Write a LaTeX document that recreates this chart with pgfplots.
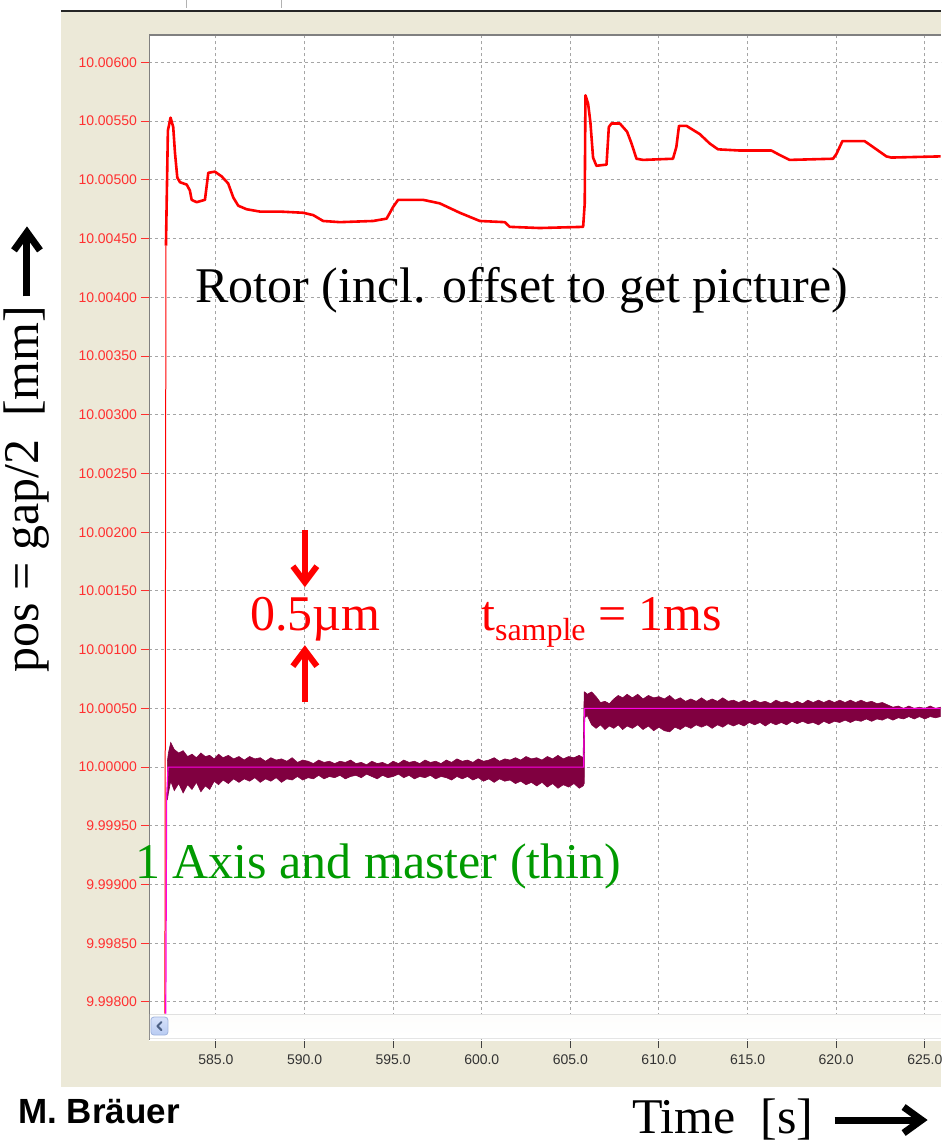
\documentclass[border=0pt]{standalone}
\usepackage{fontspec}
\setmainfont{Liberation Serif}
\newfontfamily\sansfont{Liberation Sans}
\usepackage{pgfplots}
\usepackage{pgfplotstable}
\pgfplotsset{compat=1.18}
\usetikzlibrary{arrows.meta}

\definecolor{panel}{HTML}{ECE9D8}
\definecolor{gridgray}{HTML}{A5A5A5}
\definecolor{rotorred}{HTML}{FF0000}
\definecolor{bandmaroon}{HTML}{800040}
\definecolor{master}{HTML}{FF00E6}
\definecolor{labelred}{HTML}{FF3030}
\definecolor{textgreen}{HTML}{009A00}
\definecolor{btnedge}{HTML}{A0B4DE}
\definecolor{btntop}{HTML}{D7E2FA}
\definecolor{btnbot}{HTML}{B8CBF2}
\definecolor{chevron}{HTML}{4D6185}

% rotor position, y in micrometre above 10 mm
\pgfplotstableread{
x y
582.18 4.44
582.29 5.42
582.44 5.53
582.59 5.45
582.69 5.23
582.82 5.02
582.97 4.98
583.35 4.96
583.53 4.91
583.63 4.83
583.91 4.81
584.38 4.83
584.57 5.06
584.94 5.07
585.32 5.03
585.69 4.97
585.98 4.85
586.26 4.78
586.73 4.75
587.48 4.73
588.61 4.73
589.92 4.72
590.49 4.70
591.05 4.65
591.99 4.64
593.87 4.65
594.63 4.67
595.00 4.77
595.28 4.83
596.69 4.83
597.63 4.80
598.76 4.72
599.89 4.65
601.30 4.64
601.58 4.60
603.27 4.59
605.72 4.60
605.81 4.80
605.85 5.72
606.00 5.65
606.13 5.49
606.28 5.19
606.47 5.12
607.04 5.13
607.17 5.45
607.32 5.48
607.79 5.48
608.20 5.41
608.45 5.31
608.73 5.18
609.10 5.17
610.79 5.18
610.98 5.28
611.13 5.46
611.55 5.46
612.30 5.39
612.86 5.31
613.33 5.26
614.55 5.25
616.34 5.25
616.71 5.22
617.37 5.17
619.82 5.18
620.01 5.22
620.35 5.33
621.60 5.33
621.89 5.30
622.83 5.20
623.11 5.19
625.89 5.20
}\rotor

% axis / master: outline of the noisy band (upper edge, then lower edge backwards)
\pgfplotstableread{
x y
582.26 0.05
582.32 0.12
582.45 0.21
582.65 0.15
582.90 0.12
583.15 0.14
583.40 0.09
583.65 0.11
583.90 0.08
584.15 0.12
584.40 0.09
584.65 0.10
584.90 0.07
585.15 0.11
585.40 0.08
585.70 0.10
586.00 0.07
586.30 0.09
586.60 0.06
586.90 0.09
587.20 0.07
587.50 0.08
587.80 0.05
588.10 0.08
588.40 0.06
588.70 0.07
589.00 0.05
589.30 0.08
589.60 0.04
589.90 0.06
590.20 0.05
590.50 0.03
590.80 0.06
591.10 0.04
591.40 0.05
591.70 0.03
592.00 0.05
592.30 0.04
592.60 0.06
592.90 0.03
593.20 0.04
593.50 0.02
593.80 0.05
594.10 0.03
594.40 0.04
594.70 0.02
595.00 0.05
595.30 0.03
595.60 0.06
595.90 0.04
596.20 0.05
596.50 0.03
596.80 0.06
597.10 0.04
597.40 0.05
597.70 0.03
598.00 0.06
598.30 0.04
598.60 0.07
598.90 0.05
599.20 0.06
599.50 0.04
599.80 0.07
600.10 0.05
600.40 0.06
600.70 0.08
601.00 0.05
601.30 0.07
601.60 0.06
601.90 0.08
602.20 0.06
602.50 0.09
602.80 0.07
603.10 0.08
603.40 0.06
603.70 0.09
604.00 0.07
604.30 0.10
604.60 0.07
604.90 0.09
605.20 0.08
605.50 0.10
605.72 0.08
605.78 0.64
605.81 0.64
605.95 0.62
606.20 0.64
606.45 0.60
606.70 0.55
606.95 0.56
607.20 0.54
607.45 0.58
607.70 0.61
607.95 0.59
608.20 0.62
608.50 0.59
608.80 0.62
609.10 0.58
609.40 0.61
609.70 0.59
610.00 0.60
610.30 0.58
610.60 0.61
610.90 0.57
611.20 0.59
611.50 0.56
611.80 0.58
612.10 0.56
612.40 0.59
612.70 0.56
613.00 0.58
613.30 0.56
613.60 0.59
613.90 0.56
614.20 0.57
614.50 0.55
614.80 0.57
615.10 0.55
615.40 0.57
615.70 0.55
616.00 0.56
616.30 0.54
616.60 0.57
616.90 0.55
617.20 0.56
617.50 0.54
617.80 0.56
618.10 0.54
618.40 0.57
618.70 0.55
619.00 0.57
619.30 0.55
619.60 0.57
619.90 0.55
620.20 0.57
620.50 0.55
620.80 0.57
621.10 0.55
621.40 0.57
621.70 0.55
622.00 0.56
622.30 0.54
622.60 0.55
622.90 0.53
623.20 0.51
623.50 0.52
623.80 0.50
624.10 0.52
624.40 0.50
624.70 0.51
625.00 0.50
625.30 0.52
625.60 0.50
625.89 0.51
625.89 0.43
625.60 0.42
625.30 0.43
625.00 0.41
624.70 0.43
624.40 0.41
624.10 0.43
623.80 0.41
623.50 0.42
623.20 0.40
622.90 0.42
622.60 0.40
622.30 0.41
622.00 0.39
621.70 0.41
621.40 0.39
621.10 0.40
620.80 0.38
620.50 0.40
620.20 0.38
619.90 0.39
619.60 0.37
619.30 0.39
619.00 0.36
618.70 0.38
618.40 0.37
618.10 0.39
617.80 0.37
617.50 0.39
617.20 0.36
616.90 0.38
616.60 0.36
616.30 0.38
616.00 0.35
615.70 0.38
615.40 0.36
615.10 0.38
614.80 0.35
614.50 0.37
614.20 0.35
613.90 0.37
613.60 0.34
613.30 0.36
613.00 0.33
612.70 0.36
612.40 0.34
612.10 0.36
611.80 0.33
611.50 0.35
611.20 0.32
610.90 0.34
610.60 0.30
610.30 0.31
610.00 0.34
609.70 0.31
609.40 0.35
609.10 0.32
608.80 0.36
608.50 0.33
608.20 0.35
607.95 0.32
607.70 0.36
607.45 0.33
607.20 0.35
606.95 0.32
606.70 0.36
606.45 0.33
606.20 0.36
605.95 0.44
605.81 0.42
605.78 -0.14
605.72 -0.16
605.50 -0.18
605.20 -0.14
604.90 -0.17
604.60 -0.15
604.30 -0.18
604.00 -0.14
603.70 -0.17
603.40 -0.13
603.10 -0.16
602.80 -0.13
602.50 -0.15
602.20 -0.12
601.90 -0.14
601.60 -0.11
601.30 -0.12
601.00 -0.10
600.70 -0.13
600.40 -0.10
600.10 -0.12
599.80 -0.09
599.50 -0.11
599.20 -0.08
598.90 -0.10
598.60 -0.08
598.30 -0.11
598.00 -0.09
597.70 -0.08
597.40 -0.10
597.10 -0.07
596.80 -0.09
596.50 -0.08
596.20 -0.10
595.90 -0.07
595.60 -0.09
595.30 -0.06
595.00 -0.08
594.70 -0.09
594.40 -0.07
594.10 -0.10
593.80 -0.08
593.50 -0.06
593.20 -0.09
592.90 -0.07
592.60 -0.08
592.30 -0.10
592.00 -0.07
591.70 -0.09
591.40 -0.08
591.10 -0.10
590.80 -0.07
590.50 -0.10
590.20 -0.09
589.90 -0.11
589.60 -0.08
589.30 -0.11
589.00 -0.10
588.70 -0.13
588.40 -0.09
588.10 -0.12
587.80 -0.10
587.50 -0.13
587.20 -0.09
586.90 -0.12
586.60 -0.10
586.30 -0.13
586.00 -0.10
585.70 -0.14
585.40 -0.11
585.15 -0.15
584.90 -0.12
584.65 -0.19
584.40 -0.16
584.15 -0.21
583.90 -0.13
583.65 -0.19
583.40 -0.15
583.15 -0.22
582.90 -0.14
582.65 -0.20
582.45 -0.12
582.32 -0.22
582.26 -0.28
582.26 0.05
}\band

\begin{document}
\begin{tikzpicture}[x=0.5pt,y=0.5pt]
% page and screenshot frame (1 unit = 1 pixel of the reference)
\fill[white] (0,0) rectangle (948,1146);
\fill[panel] (61,59) rectangle (941,1134);
\draw[black!85, line width=0.8pt] (61,1135.5) -- (941,1135.5);
\draw[black!30, line width=0.5pt] (187,1146) -- (187,1138);
\draw[black!30, line width=0.5pt] (282,1146) -- (282,1138);
\fill[white] (149,106) rectangle (941,1112);

\begin{axis}[
    at={(74.5pt,53pt)}, anchor=south west,
    width=396pt, height=503pt, scale only axis,
    xmin=581.22, xmax=625.89,
    ymin=-2.324, ymax=6.238,
    axis line style={draw=white, line width=0.3pt},
    xtick pos=bottom, ytick pos=left,
    tick align=outside,
    major tick length=4pt,
    xtick={585,590,595,600,605,610,615,620,625},
    xticklabels={585.0,590.0,595.0,600.0,605.0,610.0,615.0,620.0,625.0},
    ytick={-2,-1.5,-1,-0.5,0,0.5,1,1.5,2,2.5,3,3.5,4,4.5,5,5.5,6},
    yticklabels={9.99800,9.99850,9.99900,9.99950,10.00000,10.00050,10.00100,
        10.00150,10.00200,10.00250,10.00300,10.00350,10.00400,10.00450,
        10.00500,10.00550,10.00600},
    grid=major,
    major grid style={gridgray, line width=0.5pt, dash pattern=on 1.5pt off 1.5pt},
    xtick style={draw=black!75, line width=0.5pt},
    ytick style={draw=labelred, line width=0.5pt},
    x tick label style={font=\sansfont\fontsize{7}{8}\selectfont, text=black!80},
    y tick label style={font=\sansfont\fontsize{7}{8}\selectfont, text=labelred, xshift=1.5pt},
]
\addplot[fill=bandmaroon, draw=bandmaroon, line width=0.3pt] table[x=x,y=y]{\band};
\addplot[rotorred, line width=0.5pt] coordinates {(582.12,-2.10) (582.18,4.44)};
\addplot[rotorred, line width=1.3pt, line join=round] table[x=x,y=y]{\rotor};
\addplot[master, line width=0.6pt] coordinates {
    (582.17,-2.10) (582.22,-0.25) (582.30,0.00) (605.75,0.00)
    (605.80,0.50) (625.89,0.50)};
\end{axis}

% window borders and scroll bar
\draw[black!50, line width=0.8pt] (149.5,106) -- (149.5,1111.5) -- (941,1111.5);
\shade[top color=white!90!panel, bottom color=white] (150,108) rectangle (941,132);
\draw[black!12, line width=0.5pt] (150,132) -- (941,132);
\draw[black!10, line width=0.5pt] (150,108) -- (941,108);
\draw[rounded corners=1.5pt, draw=btnedge, top color=btntop, bottom color=btnbot]
    (151,111) rectangle (168,129);
\draw[chevron, line width=1pt, line cap=round, line join=round]
    (161.5,124) -- (157.5,120) -- (161.5,116);

% annotations
\node[anchor=base west, inner sep=0pt] at (195,844)
    {\fontsize{25}{30}\selectfont Rotor (incl. offset to get picture)};
\node[anchor=base west, inner sep=0pt, text=red] at (250,516)
    {\fontsize{25}{30}\selectfont 0.5µm};
\node[anchor=base west, inner sep=0pt, text=red] at (481,516)
    {\fontsize{25}{30}\selectfont t\raisebox{-5pt}{\fontsize{16}{18}\selectfont sample} = 1ms};
\node[anchor=base west, inner sep=0pt, text=textgreen] at (135,268)
    {\fontsize{25}{30}\selectfont 1 Axis and master (thin)};
\draw[red, line width=3pt, -{Straight Barb[length=8pt, width=12pt]}] (305,616) -- (305,559);
\draw[red, line width=3pt, -{Straight Barb[length=8pt, width=12pt]}] (305,444) -- (305,501);

% axis titles
\node[anchor=base west, inner sep=0pt, rotate=90] at (39,473)
    {\fontsize{25}{30}\selectfont pos = gap/2\hspace{0.45em}[mm]};
\draw[black, line width=3.5pt, -{Straight Barb[length=9pt, width=13pt]}] (27,850) -- (27,920);
\node[anchor=base west, inner sep=0pt] at (632,13)
    {\fontsize{25}{30}\selectfont Time\hspace{0.5em}[s]};
\draw[black, line width=3.5pt, -{Straight Barb[length=9pt, width=13pt]}] (835,26) -- (928,26);
\node[anchor=base west, inner sep=0pt] at (18,23)
    {\sansfont\bfseries\fontsize{17.5}{20}\selectfont M. Bräuer};
\end{tikzpicture}
\end{document}
